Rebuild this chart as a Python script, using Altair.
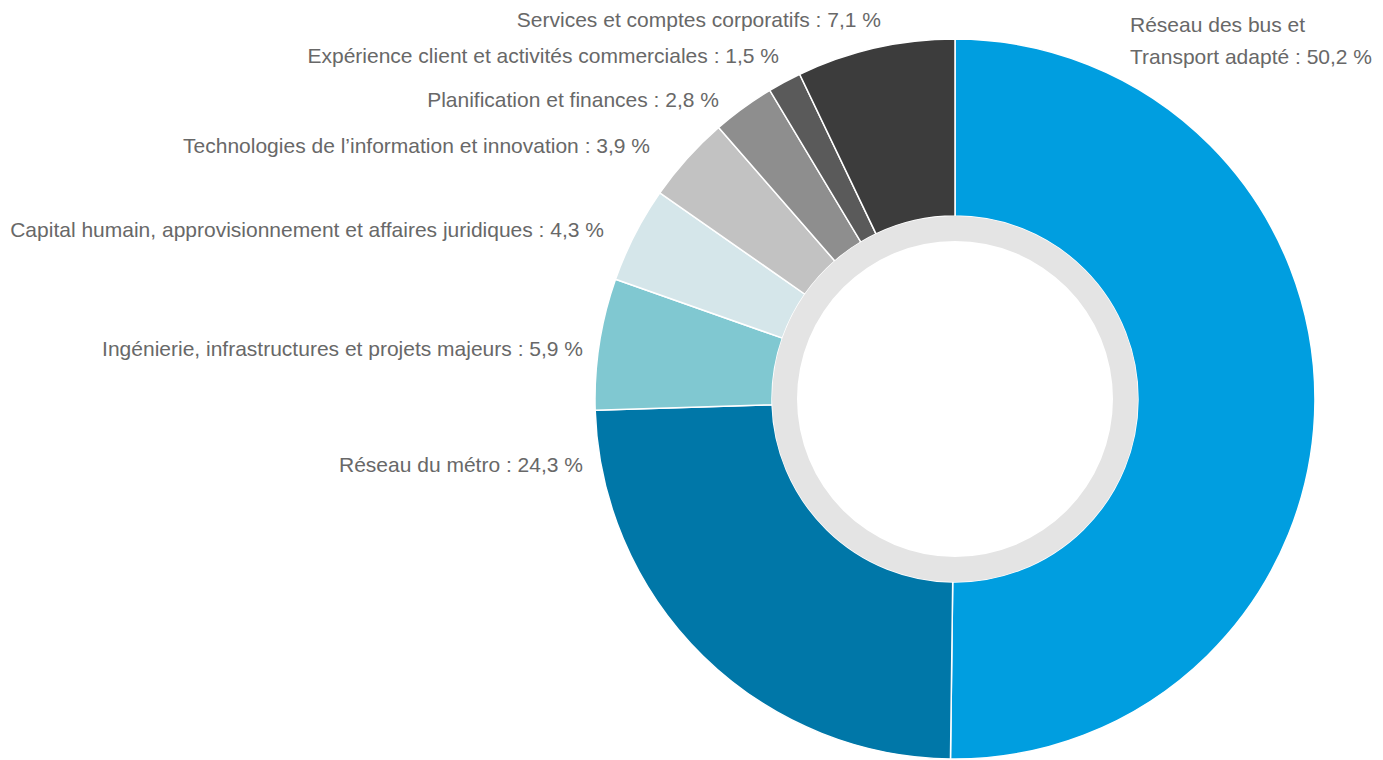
import altair as alt
import pandas as pd

categories = [
    "Réseau des bus et Transport adapté",
    "Réseau du métro",
    "Ingénierie, infrastructures et projets majeurs",
    "Capital humain, approvisionnement et affaires juridiques",
    "Technologies de l’information et innovation",
    "Planification et finances",
    "Expérience client et activités commerciales",
    "Services et comptes corporatifs",
]
values = [50.2, 24.3, 5.9, 4.3, 3.9, 2.8, 1.5, 7.1]
colors = ["#009EE0", "#0077A8", "#80C8D1", "#D5E6EA", "#C2C2C2", "#8E8E8E", "#5A5A5A", "#3C3C3C"]

W, H = 1367, 744
CX, CY = 947, 391          # donut centre inside the plot area
R_OUT, R_IN = 360, 183     # coloured ring
RING_OUT, RING_IN = 183, 158  # grey inner ring

def fmt(v):
    return f"{v:.1f}".replace(".", ",") + " %"

df = pd.DataFrame({"cat": categories, "val": values, "idx": list(range(len(categories)))})

# label anchors (layout only)
label_pos = {
    "Réseau des bus et Transport adapté": (1122, 18, "left"),
    "Réseau du métro": (575, 458, "right"),
    "Ingénierie, infrastructures et projets majeurs": (575, 342, "right"),
    "Capital humain, approvisionnement et affaires juridiques": (596, 223, "right"),
    "Technologies de l’information et innovation": (642, 139, "right"),
    "Planification et finances": (711, 93, "right"),
    "Expérience client et activités commerciales": (771, 49, "right"),
    "Services et comptes corporatifs": (873, 13, "right"),
}

arcs = alt.Chart(df).mark_arc(
    radius=R_OUT, radius2=R_IN, stroke="white", strokeWidth=1.5
).encode(
    theta=alt.Theta("val:Q", stack=True),
    order=alt.Order("idx:Q"),
    color=alt.Color("cat:N", scale=alt.Scale(domain=categories, range=colors), legend=None),
    x=alt.value(CX),
    y=alt.value(CY),
)

ring = alt.Chart(pd.DataFrame({"r": [1]})).mark_arc(
    radius=RING_OUT, radius2=RING_IN, theta=0, theta2=6.2832, color="#E4E4E4"
).encode(x=alt.value(CX), y=alt.value(CY))

layers = [arcs, ring]
for c, v in zip(categories, values):
    x, y, al = label_pos[c]
    if al == "left":
        txt = "Réseau des bus et\nTransport adapté : " + fmt(v)
    else:
        txt = f"{c} : {fmt(v)}"
    t = alt.Chart(pd.DataFrame({"t": [txt]})).mark_text(
        align=al, baseline="middle", font="Liberation Sans", fontSize=21,
        color="#686868", lineBreak="\n", lineHeight=32,
    ).encode(text="t:N", x=alt.value(x), y=alt.value(y))
    layers.append(t)

chart = alt.layer(*layers).properties(
    width=W, height=H, padding=0, background="white"
).configure_view(stroke=None)

chart.save("out.html", embed_options={"renderer": "svg", "actions": False})
